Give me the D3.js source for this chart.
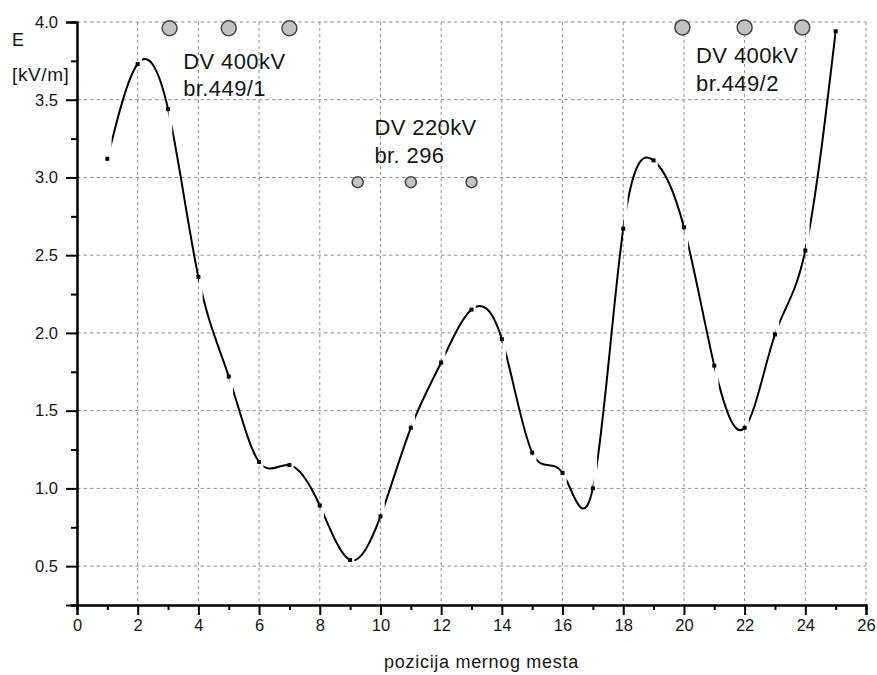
<!DOCTYPE html>
<html>
<head>
<meta charset="utf-8">
<script src="https://cdn.jsdelivr.net/npm/d3@7"></script>
<style>
  html, body { margin: 0; padding: 0; background: #fff; }
  svg { display: block; font-family: Arial, "Liberation Sans", sans-serif; }
</style>
</head>
<body>
<svg id="chart" width="877" height="675"></svg>
<script>
// ---- data ----
const positions = [1, 2, 3, 4, 5, 6, 7, 8, 9, 10, 11, 12, 13, 14, 15, 16, 17, 18, 19, 20, 21, 22, 23, 24, 25];
const eValues   = [3.12, 3.73, 3.44, 2.36, 1.72, 1.17, 1.15, 0.89, 0.54, 0.82, 1.39, 1.81, 2.15, 1.96, 1.23, 1.10, 1.00, 2.67, 3.11, 2.68, 1.79, 1.39, 1.99, 2.53, 3.94];

const xTicks = [0, 2, 4, 6, 8, 10, 12, 14, 16, 18, 20, 22, 24, 26];
const yTicks = [0.5, 1.0, 1.5, 2.0, 2.5, 3.0, 3.5, 4.0];

// tower (conductor) markers
const towers400aX = [3.05, 5.0, 7.0];
const towers400aY = [3.96, 3.96, 3.96];
const towers220X  = [9.25, 11.0, 13.0];
const towers220Y  = [2.97, 2.97, 2.97];
const towers400bX = [19.95, 22.0, 23.9];
const towers400bY = [3.965, 3.965, 3.965];

const labels400a = ["DV 400kV", "br.449/1"];
const labels220  = ["DV 220kV", "br. 296"];
const labels400b = ["DV 400kV", "br.449/2"];
const labelAnchorX = [3.5, 9.8, 20.4];    // data x of label start
const labelAnchorY = [3.70, 3.27, 3.735]; // data y of first baseline

const yTitle = ["E", "[kV/m]"];
const xTitle = "pozicija mernog mesta";

// ---- layout ----
const svg = d3.select("#chart");
const x = d3.scaleLinear().domain([0, 26]).range([77, 866]);
const y = d3.scaleLinear().domain([0.25, 4.0]).range([605, 22]);

const gridColor = "#8f8f8f";
const textColor = "#151515";

// grid
const grid = svg.append("g");
grid.selectAll("line.vx").data(xTicks.filter(d => d > 0)).enter().append("line")
  .attr("x1", d => x(d)).attr("x2", d => x(d))
  .attr("y1", y(4.0)).attr("y2", y(0.25))
  .attr("stroke", gridColor).attr("stroke-width", 1).attr("stroke-dasharray", "3,3");
grid.selectAll("line.hy").data(yTicks).enter().append("line")
  .attr("x1", x(0)).attr("x2", x(26))
  .attr("y1", d => y(d)).attr("y2", d => y(d))
  .attr("stroke", gridColor).attr("stroke-width", 1).attr("stroke-dasharray", "3.5,3");

// axes
const xAxis = d3.axisBottom(x).tickValues(xTicks).tickFormat(d3.format("d")).tickSize(10).tickPadding(4);
const xMinor = d3.axisBottom(x).tickValues(d3.range(1, 26, 2)).tickFormat("").tickSize(5);
const yAxis = d3.axisLeft(y).tickValues(yTicks).tickFormat(d3.format(".1f")).tickSize(11).tickPadding(8);
const yMinor = d3.axisLeft(y).tickValues([0.25, 0.75, 1.25, 1.75, 2.25, 2.75, 3.25, 3.75]).tickFormat("").tickSize(6);

function styleAxis(g) {
  g.select(".domain").attr("stroke", "#000").attr("stroke-width", 2);
  g.selectAll(".tick line").attr("stroke", "#000").attr("stroke-width", 2);
  g.selectAll(".tick text").attr("fill", textColor).style("font-size", "16.5px")
    .style("font-family", "Arial, 'Liberation Sans', sans-serif");
}
svg.append("g").attr("transform", `translate(0,${y(0.25)})`).call(xMinor).call(styleAxis);
svg.append("g").attr("transform", `translate(0,${y(0.25)})`).call(xAxis).call(styleAxis);
svg.append("g").attr("transform", `translate(${x(0)},0)`).call(yMinor).call(styleAxis);
svg.append("g").attr("transform", `translate(${x(0)},0)`).call(yAxis).call(styleAxis);

// axis titles
svg.append("text").attr("x", 12).attr("y", 46).attr("fill", textColor)
  .style("font-size", "18px").text(yTitle[0]);
svg.append("text").attr("x", 12).attr("y", 81).attr("fill", textColor)
  .style("font-size", "19px").style("letter-spacing", "0.6px").text(yTitle[1]);
svg.append("text").attr("x", (x(0) + x(26)) / 2 + 10).attr("y", 668).attr("fill", textColor)
  .attr("text-anchor", "middle").style("font-size", "18px").style("letter-spacing", "0.7px")
  .text(xTitle);

// curve with small gaps after each measured point
const pts = positions.map((p, i) => [p, eValues[i]]);
const gap = 0.14;
const defs = svg.append("defs");
const clip = defs.append("clipPath").attr("id", "segclip");
clip.selectAll("rect").data(positions.slice(0, -1)).enter().append("rect")
  .attr("x", (d) => x(d + gap))
  .attr("width", (d, i) => x(positions[i + 1]) - x(d + gap) + 0.5)
  .attr("y", 0).attr("height", 675);

const line = d3.line().x(d => x(d[0])).y(d => y(d[1])).curve(d3.curveNatural);
svg.append("path").datum(pts)
  .attr("d", line)
  .attr("fill", "none").attr("stroke", "#000").attr("stroke-width", 2)
  .attr("clip-path", "url(#segclip)");

// point markers
svg.selectAll("rect.pt").data(pts).enter().append("rect")
  .attr("x", d => x(d[0]) - 2).attr("y", d => y(d[1]) - 2)
  .attr("width", 4).attr("height", 4).attr("fill", "#000");

// towers
function towers(xs, ys, r) {
  svg.append("g").selectAll("circle").data(xs).enter().append("circle")
    .attr("cx", d => x(d)).attr("cy", (d, i) => y(ys[i])).attr("r", r)
    .attr("fill", "#c2c2c2").attr("stroke", "#444").attr("stroke-width", 1.5);
}
towers(towers400aX, towers400aY, 7.5);
towers(towers220X, towers220Y, 5.5);
towers(towers400bX, towers400bY, 7.5);

// labels
[labels400a, labels220, labels400b].forEach((lines, k) => {
  const t = svg.append("text").attr("fill", textColor).style("font-size", "22px")
    .style("letter-spacing", "0.4px");
  lines.forEach((s, j) => {
    t.append("tspan").attr("x", x(labelAnchorX[k]))
      .attr("y", y(labelAnchorY[k]) + j * 27.5).text(s);
  });
});
</script>
</body>
</html>
